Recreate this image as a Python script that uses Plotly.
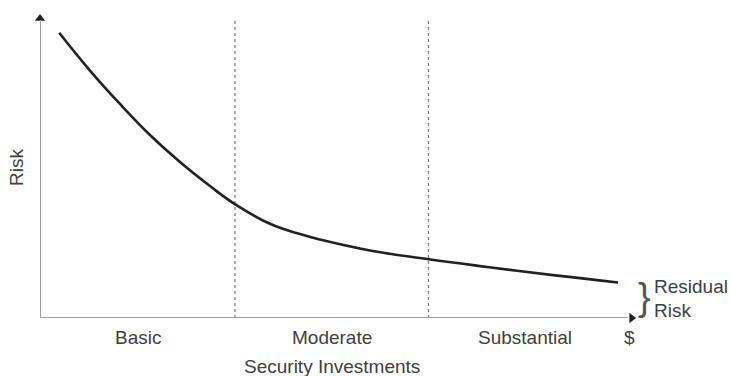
import plotly.graph_objects as go

# Data (investment level 0-100, risk 0-100)
invest = [3.2, 8.33, 13.33, 18.33, 23.33, 28.33, 32.67, 38.33, 43.33, 46.67,
          55.0, 64.5, 74.5, 85.5, 96.33]
risk = [93.85, 81.4, 70.4, 60.2, 51.3, 43.4, 37.2, 31.0, 27.6, 25.8,
        22.2, 19.4, 16.8, 14.1, 11.7]

zone_bounds = [32.5, 64.75]
zone_labels = ["Basic", "Moderate", "Substantial", "$"]
zone_label_x = [16.25, 48.7, 80.8, 98.3]

x_title = "Security Investments"
y_title = "Risk"
residual_lines = ["Residual", "Risk"]

W, H = 731, 376
ML, MR, MT, MB = 40, 91, 14, 58
TXT = "#404040"
FONT = "Liberation Sans, Arial, sans-serif"
FS = 19

fig = go.Figure()

# dashed zone boundaries
for b in zone_bounds:
    fig.add_trace(go.Scatter(x=[b, b], y=[0, 98], mode="lines",
                             line=dict(color="#808080", width=1.3, dash="3px,3px"),
                             hoverinfo="skip", showlegend=False))

# the risk curve
fig.add_trace(go.Scatter(x=invest, y=risk, mode="lines",
                         line=dict(color="#222", width=2.6, shape="spline", smoothing=1.2),
                         showlegend=False))

shapes = [
    dict(type="line", xref="x", yref="y", x0=0, y0=0, x1=0, y1=98,
         line=dict(color="#a0a0a0", width=2)),
    dict(type="line", xref="x", yref="y", x0=0, y0=0, x1=98, y1=0,
         line=dict(color="#a0a0a0", width=2)),
]

# axis arrowheads
fig.add_trace(go.Scatter(x=[0], y=[98.5], mode="markers",
                         marker=dict(symbol="triangle-up", size=9, color="#222"),
                         hoverinfo="skip", showlegend=False, cliponaxis=False))
fig.add_trace(go.Scatter(x=[98.6], y=[0], mode="markers",
                         marker=dict(symbol="triangle-right", size=9, color="#222"),
                         hoverinfo="skip", showlegend=False, cliponaxis=False))


def py(p):
    # window pixel y -> paper y
    return (H - MB - p) / (H - MT - MB)


def px(p):
    # window pixel x -> paper x
    return (p - ML) / (W - ML - MR)


annotations = []
for lab, lx in zip(zone_labels, zone_label_x):
    annotations.append(dict(x=lx, y=py(337), xref="x", yref="paper", text=lab,
                            showarrow=False, font=dict(size=FS, color=TXT, family=FONT),
                            xanchor="center", yanchor="middle"))
annotations.append(dict(x=48.7, y=py(366), xref="x", yref="paper", text=x_title,
                        showarrow=False, font=dict(size=FS, color=TXT, family=FONT),
                        xanchor="center", yanchor="middle"))
annotations.append(dict(x=px(16), y=py(168), xref="paper", yref="paper",
                        text=y_title, textangle=-90, showarrow=False,
                        font=dict(size=FS, color=TXT, family=FONT),
                        xanchor="center", yanchor="middle"))
annotations.append(dict(x=px(644), y=py(297), xref="paper", yref="paper",
                        text="}", showarrow=False,
                        font=dict(size=38, color="#555", family=FONT),
                        xanchor="center", yanchor="middle"))
for i, t in enumerate(residual_lines):
    annotations.append(dict(x=px(652), y=py(286 + 24 * i), xref="paper", yref="paper",
                            text=t, showarrow=False, align="left",
                            font=dict(size=FS, color=TXT, family=FONT),
                            xanchor="left", yanchor="middle"))

fig.update_layout(
    width=W, height=H,
    margin=dict(l=ML, r=MR, t=MT, b=MB, pad=0),
    paper_bgcolor="white", plot_bgcolor="white",
    xaxis=dict(range=[0, 100], visible=False, fixedrange=True),
    yaxis=dict(range=[0, 100], visible=False, fixedrange=True),
    shapes=shapes, annotations=annotations,
    showlegend=False,
)

fig.write_html("out.html", config={"displayModeBar": False},
               post_script="document.body.style.margin='0';document.body.style.overflow='hidden';")
